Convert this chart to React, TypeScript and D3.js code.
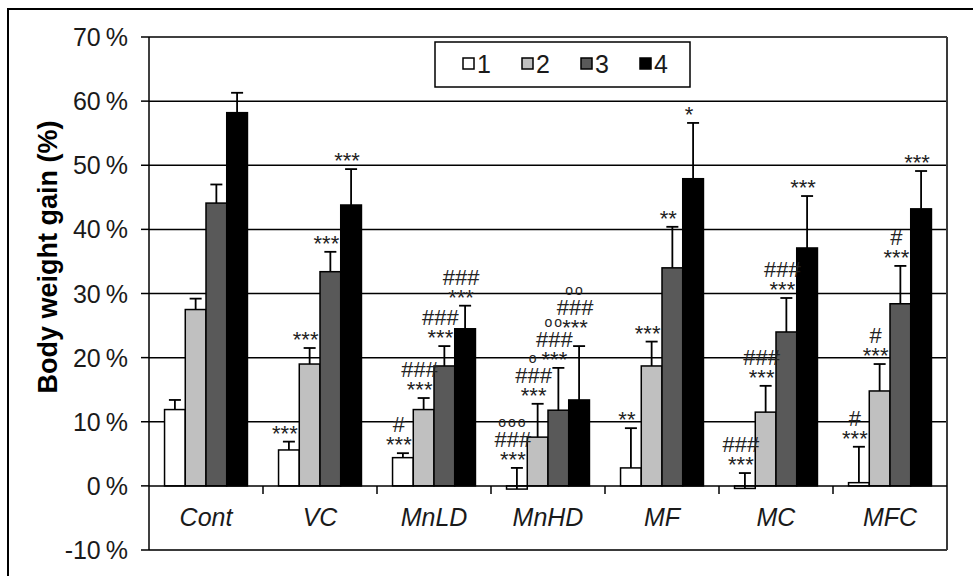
import * as d3 from "d3";

const groups = ["Cont", "VC", "MnLD", "MnHD", "MF", "MC", "MFC"];
const seriesNames = ["1", "2", "3", "4"];
const seriesColors = ["#ffffff", "#c0c0c0", "#595959", "#000000"];

// body weight gain, percent
const week1 = [11.9, 5.6, 4.4, -0.5, 2.8, -0.4, 0.5];
const week2 = [27.5, 19.0, 11.9, 7.6, 18.7, 11.5, 14.8];
const week3 = [44.1, 33.4, 18.7, 11.8, 34.0, 24.0, 28.4];
const week4 = [58.2, 43.8, 24.5, 13.4, 47.9, 37.1, 43.2];

// upper error (SD)
const err1 = [1.5, 1.3, 0.7, 3.3, 6.2, 2.4, 5.6];
const err2 = [1.7, 2.5, 1.8, 5.2, 3.8, 4.1, 4.2];
const err3 = [2.9, 3.1, 3.1, 6.6, 6.4, 5.3, 5.9];
const err4 = [3.1, 5.6, 3.6, 8.4, 8.7, 8.1, 5.9];

// significance marks, lines from top to bottom
const sig1 = ["", "***", "#\n***", "ooo\n###\n***", "**", "###\n***", "#\n***"];
const sig2 = ["", "***", "###\n***", "o\n###\n***", "***", "###\n***", "#\n***"];
const sig3 = ["", "***", "###\n***", "oo\n###\n***", "**", "###\n***", "#\n***"];
const sig4 = ["", "***", "###\n***", "oo\n###\n***", "*", "***", "***"];

const yTicks = [-10, 0, 10, 20, 30, 40, 50, 60, 70];

const values = [week1, week2, week3, week4];
const errors = [err1, err2, err3, err4];
const sigs = [sig1, sig2, sig3, sig4];

const W = 973;
const H = 576;
const m = { l: 149, r: 947, t: 37, b: 550 };
const font = "'Liberation Sans', Arial, sans-serif";
const textColor = "#1a1a1a";
const lineStep = 20;

export default function App() {
  const y = d3.scaleLinear().domain([-10, 70]).range([m.b, m.t]);
  const x0 = d3.scaleBand<string>().domain(groups).range([m.l, m.r]);
  const x1 = d3
    .scaleBand<string>()
    .domain(seriesNames)
    .range([0, x0.bandwidth()])
    .paddingOuter(0.75);

  const bars: JSX.Element[] = [];
  const errs: JSX.Element[] = [];
  const labels: JSX.Element[] = [];

  groups.forEach((g, gi) => {
    let prevBase: number | null = null;
    seriesNames.forEach((s, si) => {
      const v = values[si][gi];
      const e = errors[si][gi];
      const bx = (x0(g) as number) + (x1(s) as number);
      const bw = x1.bandwidth();
      const top = y(Math.max(v, 0));
      const bottom = y(Math.min(v, 0));
      bars.push(
        <rect
          key={`b${gi}-${si}`}
          x={bx}
          y={top}
          width={bw}
          height={Math.max(bottom - top, 1)}
          fill={seriesColors[si]}
          stroke="#000"
          strokeWidth={1.5}
        />
      );
      const cx = bx + bw / 2;
      const eTop = y(v + e);
      errs.push(
        <g key={`e${gi}-${si}`} stroke="#000" strokeWidth={1.8}>
          <line x1={cx} x2={cx} y1={y(v)} y2={eTop} />
          <line x1={cx - 6} x2={cx + 6} y1={eTop} y2={eTop} />
        </g>
      );
      const lines = sigs[si][gi] ? sigs[si][gi].split("\n") : [];
      if (!lines.length) {
        prevBase = null;
        return;
      }
      // keep stacks of neighbouring bars from running into each other
      let base = eTop - 1;
      if (prevBase !== null) base = Math.min(base, prevBase - 32);
      prevBase = base;
      const firstY = base - (lines.length - 1) * lineStep;
      labels.push(
        <text
          key={`s${gi}-${si}`}
          textAnchor="middle"
          fontFamily={font}
          fontSize={22}
          fill="#222"
        >
          {lines.map((ln, li) => {
            const isCircle = ln.startsWith("o");
            return (
              <tspan
                key={li}
                x={cx - 4}
                y={firstY + li * lineStep}
                fontSize={isCircle ? 14 : 22}
                letterSpacing={isCircle ? 2 : 0}
              >
                {ln}
              </tspan>
            );
          })}
        </text>
      );
    });
  });

  return (
    <svg
      width={W}
      height={H}
      style={{ position: "absolute", left: 0, top: 0, background: "#fff" }}
    >
      <rect x={0} y={0} width={W} height={H} fill="#fff" />
      {/* outer chart frame, runs off the picture */}
      <rect x={8} y={9} width={1100} height={700} fill="none" stroke="#000" strokeWidth={2} />

      {/* gridlines */}
      {yTicks
        .filter((t) => t > 0)
        .map((t) => (
          <line key={`g${t}`} x1={m.l} x2={m.r} y1={y(t)} y2={y(t)} stroke="#000" strokeWidth={1.5} />
        ))}
      {/* plot area border right / bottom */}
      <line x1={m.r} x2={m.r} y1={m.t} y2={m.b} stroke="#3a3a3a" strokeWidth={2} />
      <line x1={m.l} x2={m.r} y1={m.b} y2={m.b} stroke="#3a3a3a" strokeWidth={2} />

      {bars}

      {/* axes */}
      <line x1={m.l} x2={m.l} y1={m.t} y2={m.b} stroke="#000" strokeWidth={1.5} />
      {yTicks.map((t) => (
        <g key={`yt${t}`}>
          <line x1={m.l - 8} x2={m.l} y1={y(t)} y2={y(t)} stroke="#000" strokeWidth={1.5} />
          <text
            x={128}
            y={y(t)}
            dy="0.36em"
            textAnchor="end"
            fontFamily={font}
            fontSize={25}
            fill={textColor}
          >
            {`${t}\u2009%`}
          </text>
        </g>
      ))}
      <line x1={m.l} x2={m.r} y1={y(0)} y2={y(0)} stroke="#000" strokeWidth={1.5} />
      {groups.slice(1).map((g) => (
        <line
          key={`xt${g}`}
          x1={x0(g) as number}
          x2={x0(g) as number}
          y1={y(0)}
          y2={y(0) + 8}
          stroke="#000"
          strokeWidth={1.5}
        />
      ))}
      {groups.map((g) => (
        <text
          key={`xl${g}`}
          x={(x0(g) as number) + x0.bandwidth() / 2}
          y={526}
          textAnchor="middle"
          fontFamily={font}
          fontStyle="italic"
          fontSize={25}
          fill={textColor}
        >
          {g}
        </text>
      ))}

      {errs}
      {labels}

      <text
        transform={`translate(57,257) rotate(-90)`}
        textAnchor="middle"
        fontFamily={font}
        fontWeight="bold"
        fontSize={27}
        fill="#000"
      >
        Body weight gain (%)
      </text>

      {/* legend */}
      <rect x={435} y={42} width={255} height={45} fill="#fff" stroke="#000" strokeWidth={1.5} />
      {seriesNames.map((s, i) => (
        <g key={`lg${s}`}>
          <rect
            x={463 + i * 59}
            y={58}
            width={11}
            height={11}
            fill={seriesColors[i]}
            stroke="#000"
            strokeWidth={1.5}
          />
          <text x={477 + i * 59} y={73} fontFamily={font} fontSize={25} fill={textColor}>
            {s}
          </text>
        </g>
      ))}
    </svg>
  );
}
